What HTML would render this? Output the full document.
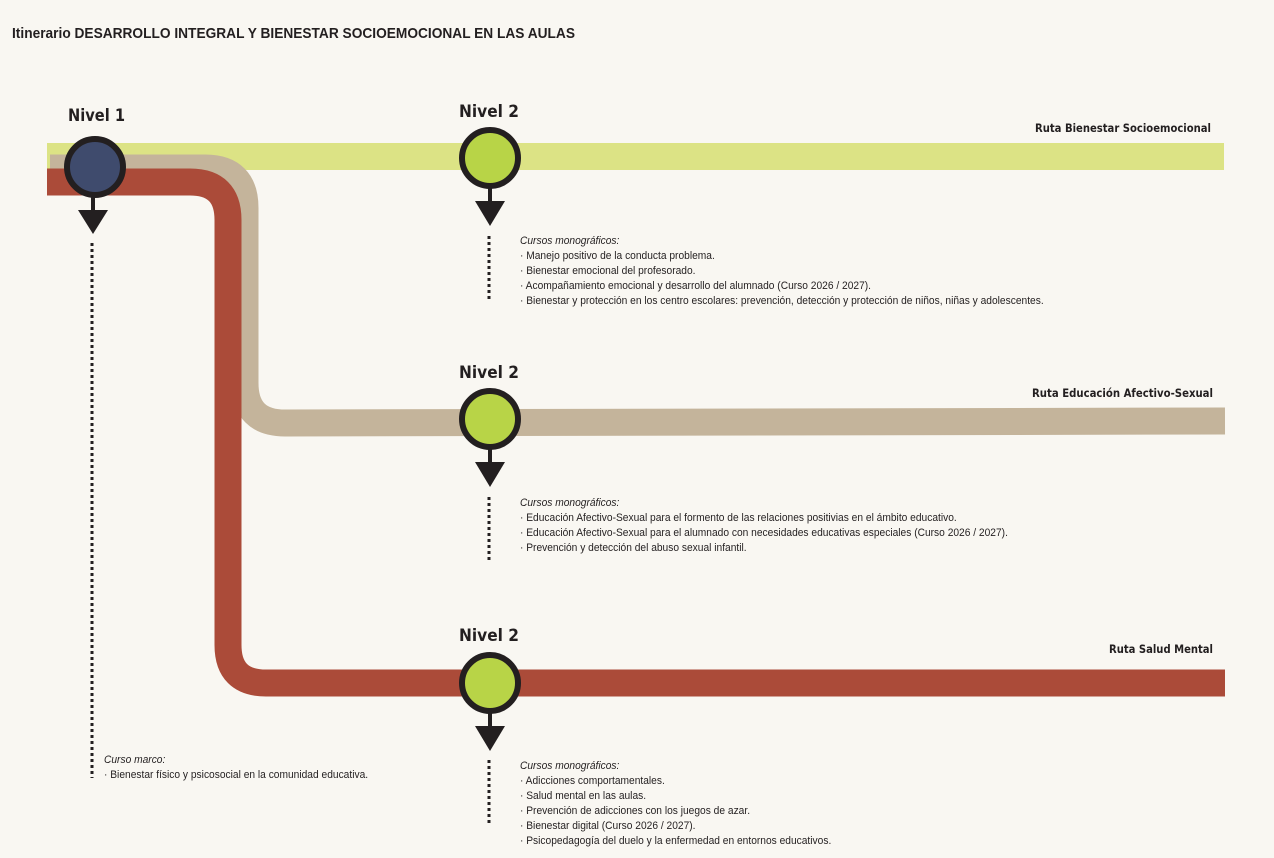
<!DOCTYPE html>
<html><head><meta charset="utf-8"><style>
html,body{margin:0;padding:0;background:#f9f7f2;}
svg{display:block}
.t{font-family:"Liberation Sans",sans-serif;font-size:11px;fill:#231f20}
.n{font-family:"DejaVu Sans","Liberation Sans",sans-serif;font-weight:bold;font-size:17px;fill:#231f20}
.r{font-family:"DejaVu Sans","Liberation Sans",sans-serif;font-weight:bold;font-size:11.5px;fill:#231f20}
</style></head><body>
<svg width="1274" height="858" viewBox="0 0 1274 858" xmlns="http://www.w3.org/2000/svg">
<rect width="1274" height="858" fill="#f9f7f2"/>
<text x="12" y="38" font-family="Liberation Sans,sans-serif" font-weight="bold" font-size="15" fill="#231f20" textLength="563" lengthAdjust="spacingAndGlyphs">Itinerario DESARROLLO INTEGRAL Y BIENESTAR SOCIOEMOCIONAL EN LAS AULAS</text>
<rect x="47" y="143" width="1177" height="27" fill="#dce385"/>
<path d="M50 168 H205 Q245 168 245 208 V383 Q245 423 285 423 L1225 421" fill="none" stroke="#c4b49b" stroke-width="27"/>
<path d="M47 182 H190 Q228 182 228 220 V645 Q228 683 266 683 H1225" fill="none" stroke="#ab4b39" stroke-width="27"/>
<text class="r" x="1035" y="132" textLength="176" lengthAdjust="spacingAndGlyphs">Ruta Bienestar Socioemocional</text>
<text class="r" x="1032" y="397" textLength="181" lengthAdjust="spacingAndGlyphs">Ruta Educación Afectivo-Sexual</text>
<text class="r" x="1109" y="653" textLength="104" lengthAdjust="spacingAndGlyphs">Ruta Salud Mental</text>
<text class="n" x="68" y="121" textLength="57" lengthAdjust="spacingAndGlyphs">Nivel 1</text>
<circle cx="95" cy="167" r="28" fill="#3f4b6d" stroke="#231f20" stroke-width="6"/>
<line x1="93" y1="195" x2="93" y2="212" stroke="#231f20" stroke-width="4"/>
<polygon points="78,210 108,210 93,234" fill="#231f20"/>
<line x1="92" y1="243" x2="92" y2="778" stroke="#231f20" stroke-width="3" stroke-dasharray="3,3"/>
<g transform="translate(104,0) scale(0.93,1) translate(-104,0)">
<text class="t" x="104" y="763" font-style="italic">Curso marco:</text>
<text class="t" x="104" y="778">· Bienestar físico y psicosocial en la comunidad educativa.</text>
</g>
<text class="n" x="459" y="117" textLength="60" lengthAdjust="spacingAndGlyphs">Nivel 2</text>
<circle cx="490" cy="158" r="28" fill="#b8d447" stroke="#231f20" stroke-width="6"/>
<line x1="490" y1="186" x2="490" y2="203" stroke="#231f20" stroke-width="4"/>
<polygon points="475,201 505,201 490,226" fill="#231f20"/>
<line x1="489" y1="236" x2="489" y2="300" stroke="#231f20" stroke-width="3" stroke-dasharray="3,3"/>
<g transform="translate(520,0) scale(0.93,1) translate(-520,0)">
<text class="t" x="520" y="244" font-style="italic">Cursos monográficos:</text>
<text class="t" x="520" y="259">· Manejo positivo de la conducta problema.</text>
<text class="t" x="520" y="274">· Bienestar emocional del profesorado.</text>
<text class="t" x="520" y="289">· Acompañamiento emocional y desarrollo del alumnado (Curso 2026 / 2027).</text>
<text class="t" x="520" y="304">· Bienestar y protección en los centro escolares: prevención, detección y protección de niños, niñas y adolescentes.</text>
</g>
<text class="n" x="459" y="378" textLength="60" lengthAdjust="spacingAndGlyphs">Nivel 2</text>
<circle cx="490" cy="419" r="28" fill="#b8d447" stroke="#231f20" stroke-width="6"/>
<line x1="490" y1="447" x2="490" y2="464" stroke="#231f20" stroke-width="4"/>
<polygon points="475,462 505,462 490,487" fill="#231f20"/>
<line x1="489" y1="497" x2="489" y2="563" stroke="#231f20" stroke-width="3" stroke-dasharray="3,3"/>
<g transform="translate(520,0) scale(0.93,1) translate(-520,0)">
<text class="t" x="520" y="506" font-style="italic">Cursos monográficos:</text>
<text class="t" x="520" y="521">· Educación Afectivo-Sexual para el formento de las relaciones positivias en el ámbito educativo.</text>
<text class="t" x="520" y="536">· Educación Afectivo-Sexual para el alumnado con necesidades educativas especiales (Curso 2026 / 2027).</text>
<text class="t" x="520" y="551">· Prevención y detección del abuso sexual infantil.</text>
</g>
<text class="n" x="459" y="641" textLength="60" lengthAdjust="spacingAndGlyphs">Nivel 2</text>
<circle cx="490" cy="683" r="28" fill="#b8d447" stroke="#231f20" stroke-width="6"/>
<line x1="490" y1="711" x2="490" y2="728" stroke="#231f20" stroke-width="4"/>
<polygon points="475,726 505,726 490,751" fill="#231f20"/>
<line x1="489" y1="760" x2="489" y2="826" stroke="#231f20" stroke-width="3" stroke-dasharray="3,3"/>
<g transform="translate(520,0) scale(0.93,1) translate(-520,0)">
<text class="t" x="520" y="769" font-style="italic">Cursos monográficos:</text>
<text class="t" x="520" y="784">· Adicciones comportamentales.</text>
<text class="t" x="520" y="799">· Salud mental en las aulas.</text>
<text class="t" x="520" y="814">· Prevención de adicciones con los juegos de azar.</text>
<text class="t" x="520" y="829">· Bienestar digital (Curso 2026 / 2027).</text>
<text class="t" x="520" y="844">· Psicopedagogía del duelo y la enfermedad en entornos educativos.</text>
</g>
</svg>
</body></html>
